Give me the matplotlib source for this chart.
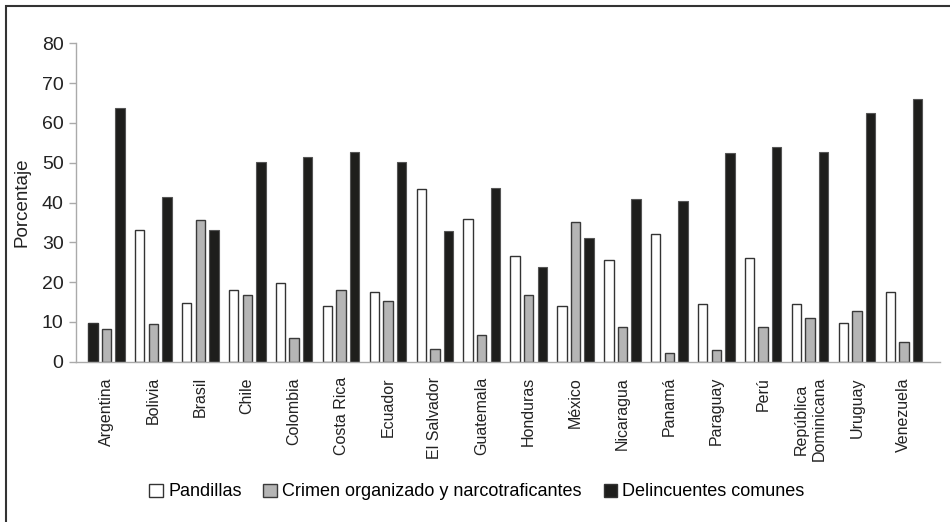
import numpy as np
import matplotlib
matplotlib.use("Agg")
import matplotlib.pyplot as plt
from matplotlib.patches import Rectangle, Patch

# Datos
paises = ['Argentina', 'Bolivia', 'Brasil', 'Chile', 'Colombia', 'Costa Rica',
          'Ecuador', 'El Salvador', 'Guatemala', 'Honduras', 'México', 'Nicaragua',
          'Panamá', 'Paraguay', 'Perú', 'República\nDominicana', 'Uruguay', 'Venezuela']
pandillas = [9.8, 33.1, 14.7, 18.0, 19.8, 14.1, 17.6, 43.4, 35.9, 26.6, 14.1, 25.5,
             32.0, 14.4, 26.0, 14.6, 9.8, 17.6]
crimen = [8.2, 9.6, 35.7, 16.8, 5.9, 18.0, 15.2, 3.3, 6.7, 16.8, 35.2, 8.8,
          2.1, 3.0, 8.8, 11.1, 12.8, 5.0]
delincuentes = [63.7, 41.5, 33.2, 50.1, 51.5, 52.8, 50.1, 32.8, 43.7, 23.7, 31.2, 40.8,
                40.3, 52.5, 53.9, 52.8, 62.6, 65.9]
series = ['Pandillas', 'Crimen organizado y narcotraficantes', 'Delincuentes comunes']
yticks = [0, 10, 20, 30, 40, 50, 60, 70, 80]

fuente = ['Liberation Sans', 'DejaVu Sans']

fig = plt.figure(figsize=(9.5, 5.22), dpi=100)
ax = fig.add_axes([0.08, 0.307, 0.9095, 0.61])

x = np.arange(len(paises))
w = 0.2
off = 0.29
b1 = ax.bar(x - off, pandillas, w, color='white', edgecolor='#333333', linewidth=1.0)
b2 = ax.bar(x, crimen, w, color='#b5b5b5', edgecolor='#3a3a3a', linewidth=1.0)
b3 = ax.bar(x + off, delincuentes, w, color='#1e1e1c', edgecolor='#555555', linewidth=0.8)
# en el original la barra de Argentina (Pandillas) aparece en negro
b1[0].set_facecolor('#1e1e1c')

ax.set_ylim(0, 80)
ax.set_xlim(-0.65, 17.77)
ax.set_yticks(yticks)
ax.set_yticklabels([str(t) for t in yticks], family=fuente, fontsize=14, color='#222222')
ax.set_xticks(x)
ax.set_xticklabels(paises, rotation=90, family=fuente, fontsize=11.5, color='#222222',
                   va='top', ha='center', multialignment='center')
ax.tick_params(axis='x', length=0, pad=11)
ax.tick_params(axis='y', length=5, color='#aaaaaa', width=1, pad=4)

for s in ['top', 'right']:
    ax.spines[s].set_visible(False)
for s in ['left', 'bottom']:
    ax.spines[s].set_color('#aaaaaa')
    ax.spines[s].set_linewidth(1)

ax.set_ylabel('Porcentaje', family=fuente, fontsize=13.5, color='#222222', labelpad=8)

handles = [Patch(facecolor='white', edgecolor='#333333'),
           Patch(facecolor='#b5b5b5', edgecolor='#3a3a3a'),
           Patch(facecolor='#1e1e1c', edgecolor='#333333')]
fig.legend(handles, series, loc='center', bbox_to_anchor=(477 / 950, 1 - 492 / 522),
           ncol=3, frameon=False, prop={'family': fuente, 'size': 13},
           handlelength=0.75, handleheight=0.75, handletextpad=0.3, columnspacing=1.2)

# marco exterior
fig.patches.append(Rectangle((6 / 950, -0.1), 1.2, 1.1 - 6 / 522,
                             transform=fig.transFigure, fill=False,
                             edgecolor='#333333', linewidth=1.5))

fig.savefig('out.png', dpi=100)
